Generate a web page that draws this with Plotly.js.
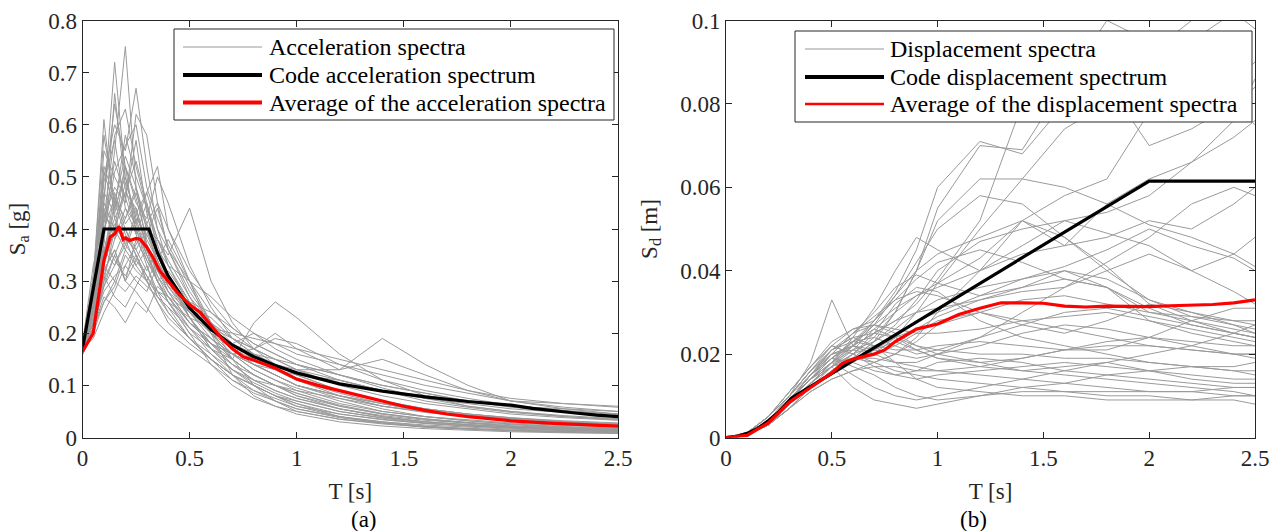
<!DOCTYPE html>
<html>
<head>
<meta charset="utf-8">
<script src="https://cdn.plot.ly/plotly-3.0.1.min.js"></script>
<style>html,body{margin:0;padding:0;background:#fff;}#chart{width:1274px;height:531px;}</style>
</head>
<body>
<div id="chart"></div>
<script>
// ---------- Data: acceleration spectra (left panel) ----------
const periodsAcc = [0,0.05,0.1,0.15,0.2,0.25,0.3,0.35,0.4,0.5,0.6,0.7,0.8,0.9,1.0,1.2,1.4,1.6,1.8,2.0,2.25,2.5];
const accRecords = [
  [.17,.30,.61,.42,.38,.33,.36,.30,.26,.20,.17,.14,.12,.10,.085,.06,.045,.035,.028,.022,.018,.015],
  [.17,.25,.45,.72,.50,.42,.35,.31,.28,.22,.18,.15,.12,.10,.08,.055,.04,.03,.025,.02,.016,.013],
  [.16,.22,.38,.55,.75,.48,.40,.34,.29,.24,.20,.16,.13,.11,.09,.065,.05,.04,.032,.026,.021,.018],
  [.17,.28,.50,.60,.55,.67,.52,.40,.33,.25,.20,.17,.15,.13,.11,.08,.06,.048,.04,.034,.028,.024],
  [.18,.33,.42,.48,.45,.62,.58,.45,.36,.28,.22,.18,.15,.13,.11,.09,.07,.055,.045,.038,.032,.028],
  [.16,.20,.30,.40,.52,.45,.42,.50,.45,.33,.25,.19,.16,.14,.12,.09,.07,.055,.045,.038,.03,.025],
  [.17,.24,.36,.33,.38,.36,.40,.38,.35,.44,.30,.22,.17,.14,.12,.09,.07,.055,.045,.037,.03,.026],
  [.17,.26,.40,.46,.40,.35,.30,.26,.22,.18,.15,.12,.10,.08,.065,.045,.035,.027,.022,.018,.014,.012],
  [.16,.21,.32,.36,.30,.28,.25,.22,.20,.17,.14,.11,.09,.07,.055,.04,.03,.024,.02,.016,.013,.011],
  [.17,.27,.55,.50,.46,.40,.34,.30,.26,.21,.17,.15,.22,.26,.23,.16,.11,.08,.06,.05,.04,.034],
  [.17,.23,.34,.44,.58,.50,.44,.38,.34,.27,.22,.19,.17,.20,.17,.13,.19,.14,.10,.07,.055,.045],
  [.17,.29,.46,.64,.52,.46,.38,.34,.30,.24,.20,.18,.20,.18,.16,.14,.12,.10,.085,.07,.065,.06],
  [.16,.22,.28,.31,.33,.30,.28,.33,.30,.25,.23,.19,.16,.14,.13,.11,.09,.08,.07,.06,.05,.045],
  [.17,.25,.35,.47,.41,.44,.36,.32,.29,.26,.24,.21,.18,.16,.14,.12,.10,.085,.07,.06,.055,.05],
  [.17,.30,.58,.45,.39,.35,.31,.27,.24,.19,.15,.12,.10,.08,.065,.04,.028,.02,.016,.013,.011,.009],
  [.18,.24,.39,.51,.56,.60,.48,.42,.37,.29,.22,.17,.14,.12,.10,.075,.055,.04,.032,.026,.02,.017],
  [.17,.22,.31,.38,.44,.41,.47,.52,.40,.30,.24,.20,.17,.15,.13,.10,.08,.065,.055,.045,.038,.033],
  [.16,.20,.26,.29,.35,.32,.30,.28,.27,.22,.19,.16,.14,.12,.10,.08,.065,.05,.04,.034,.028,.024],
  [.17,.27,.43,.39,.49,.43,.37,.33,.30,.23,.18,.14,.11,.09,.075,.055,.04,.03,.024,.02,.016,.014],
  [.17,.25,.37,.66,.48,.40,.35,.30,.27,.22,.19,.16,.14,.13,.12,.11,.09,.075,.065,.055,.048,.042],
  [.17,.31,.47,.43,.52,.39,.45,.36,.31,.23,.17,.13,.10,.08,.06,.04,.03,.022,.017,.014,.011,.009],
  [.16,.21,.29,.35,.30,.38,.34,.30,.32,.26,.21,.17,.14,.12,.10,.08,.06,.05,.04,.032,.026,.022],
  [.17,.26,.41,.53,.46,.57,.43,.35,.31,.25,.21,.18,.16,.15,.14,.12,.10,.085,.07,.058,.05,.044],
  [.17,.28,.36,.41,.37,.34,.39,.44,.36,.27,.20,.15,.12,.10,.08,.06,.045,.035,.028,.022,.018,.015],
  [.17,.19,.24,.28,.33,.37,.41,.45,.40,.32,.26,.21,.18,.16,.14,.11,.09,.07,.058,.048,.04,.035],
  [.17,.23,.31,.27,.25,.29,.33,.27,.25,.19,.15,.11,.085,.07,.055,.038,.028,.021,.017,.014,.011,.009],
  [.16,.25,.44,.38,.42,.48,.37,.31,.27,.21,.16,.12,.09,.075,.06,.045,.034,.027,.022,.018,.014,.012],
  [.17,.21,.27,.25,.22,.26,.24,.29,.27,.24,.21,.18,.15,.13,.11,.085,.065,.05,.04,.032,.026,.022],
  [.17,.28,.49,.57,.44,.39,.33,.28,.24,.19,.15,.12,.10,.08,.07,.05,.038,.03,.025,.02,.017,.014],
  [.18,.26,.33,.40,.47,.53,.45,.38,.33,.26,.20,.16,.13,.11,.095,.07,.05,.04,.034,.028,.023,.02],
  [.17,.22,.30,.35,.40,.36,.32,.36,.33,.30,.27,.23,.20,.17,.15,.12,.095,.075,.06,.05,.042,.036],
  [.16,.24,.42,.58,.63,.52,.44,.37,.31,.23,.17,.13,.105,.085,.07,.05,.037,.028,.022,.018,.015,.012],
  [.17,.27,.38,.34,.31,.35,.30,.26,.23,.19,.16,.13,.11,.10,.09,.075,.06,.05,.042,.036,.03,.026],
  [.17,.20,.35,.45,.54,.48,.41,.35,.30,.24,.19,.15,.12,.10,.085,.062,.046,.036,.029,.024,.019,.016],
  [.17,.31,.52,.46,.42,.47,.40,.33,.28,.22,.18,.16,.14,.12,.10,.08,.065,.052,.043,.036,.03,.025],
  [.16,.23,.33,.30,.36,.42,.39,.34,.29,.23,.18,.14,.11,.09,.075,.055,.042,.033,.027,.022,.018,.015],
  [.17,.26,.45,.40,.36,.33,.30,.34,.38,.30,.20,.12,.08,.06,.045,.03,.022,.017,.014,.011,.009,.008],
  [.17,.22,.29,.33,.37,.43,.47,.40,.36,.30,.22,.15,.10,.07,.05,.035,.026,.02,.016,.013,.011,.009],
  [.17,.24,.32,.36,.30,.34,.31,.28,.26,.23,.21,.20,.19,.18,.17,.15,.13,.11,.09,.075,.065,.058],
  [.16,.21,.26,.30,.28,.31,.29,.27,.25,.21,.18,.16,.17,.19,.18,.14,.11,.09,.075,.062,.052,.045],
  [.17,.29,.51,.44,.50,.41,.35,.30,.26,.20,.14,.10,.075,.06,.05,.035,.027,.02,.016,.013,.01,.008],
  [.18,.25,.36,.42,.47,.44,.37,.32,.28,.24,.21,.19,.17,.15,.13,.13,.15,.12,.09,.07,.058,.05]
];
const codeAccT  = [0,0.1,0.31,0.35,0.4,0.5,0.6,0.7,0.8,0.9,1.0,1.2,1.4,1.6,1.8,2.0,2.1,2.2,2.3,2.4,2.5];
const codeAccSa = [0.17,0.40,0.40,0.354,0.31,0.248,0.207,0.177,0.155,0.138,0.124,0.103,0.089,0.078,0.069,0.062,0.056,0.051,0.047,0.043,0.040];
const avgAccT  = [0,0.05,0.1,0.13,0.15,0.17,0.19,0.2,0.22,0.25,0.27,0.3,0.33,0.36,0.4,0.45,0.5,0.55,0.6,0.65,0.7,0.75,0.8,0.9,1.0,1.1,1.2,1.3,1.4,1.5,1.6,1.7,1.8,1.9,2.0,2.2,2.4,2.5];
const avgAccSa = [0.165,0.2,0.34,0.385,0.39,0.405,0.38,0.383,0.378,0.382,0.38,0.365,0.345,0.32,0.3,0.275,0.255,0.24,0.215,0.19,0.17,0.155,0.148,0.133,0.112,0.1,0.09,0.08,0.07,0.06,0.052,0.045,0.04,0.036,0.032,0.027,0.024,0.022];

// ---------- Data: displacement spectra (right panel) ----------
const periodsDis = [0,0.1,0.2,0.3,0.4,0.5,0.6,0.7,0.8,0.9,1.0,1.2,1.4,1.6,1.8,2.0,2.2,2.4,2.5];
const disRecords = [
  [0,.001,.004,.009,.014,.020,.025,.027,.025,.022,.020,.018,.016,.015,.014,.013,.012,.011,.010],
  [0,.0008,.003,.007,.012,.016,.019,.023,.030,.040,.052,.062,.062,.060,.056,.051,.048,.044,.041],
  [0,.001,.005,.010,.016,.022,.020,.018,.016,.015,.014,.013,.012,.011,.010,.010,.009,.009,.008],
  [0,.0006,.003,.008,.013,.018,.023,.028,.035,.045,.060,.071,.068,.080,.090,.083,.095,.102,.098],
  [0,.0012,.005,.010,.018,.033,.022,.020,.024,.028,.030,.034,.038,.040,.036,.030,.028,.026,.025],
  [0,.0007,.003,.007,.011,.014,.016,.018,.020,.024,.030,.040,.052,.046,.056,.062,.066,.072,.076],
  [0,.0009,.004,.009,.015,.019,.017,.015,.012,.010,.009,.010,.012,.013,.015,.016,.017,.017,.018],
  [0,.0011,.005,.011,.017,.023,.026,.028,.033,.038,.042,.045,.042,.038,.036,.028,.025,.023,.022],
  [0,.0008,.003,.007,.012,.016,.020,.025,.032,.036,.035,.028,.024,.022,.020,.018,.017,.016,.015],
  [0,.001,.004,.009,.014,.019,.023,.024,.022,.020,.021,.024,.030,.036,.040,.044,.040,.035,.032],
  [0,.0007,.003,.008,.013,.018,.022,.025,.028,.032,.038,.052,.080,.093,.085,.070,.074,.080,.084],
  [0,.001,.004,.009,.015,.021,.024,.022,.018,.014,.012,.011,.010,.010,.009,.009,.009,.010,.010],
  [0,.0009,.004,.008,.013,.017,.021,.026,.030,.034,.036,.040,.044,.046,.048,.052,.050,.056,.060],
  [0,.0012,.005,.010,.016,.020,.022,.021,.020,.019,.020,.022,.025,.027,.026,.024,.022,.020,.019],
  [0,.0008,.003,.008,.013,.017,.019,.018,.020,.023,.027,.030,.033,.034,.032,.030,.029,.028,.028],
  [0,.001,.004,.009,.014,.018,.015,.012,.010,.009,.010,.012,.014,.016,.018,.020,.022,.025,.027],
  [0,.0007,.003,.007,.012,.017,.022,.028,.034,.040,.044,.048,.052,.058,.062,.078,.082,.086,.090],
  [0,.001,.004,.009,.015,.020,.021,.020,.022,.025,.028,.030,.028,.026,.024,.022,.021,.020,.020],
  [0,.0009,.004,.009,.014,.019,.023,.026,.024,.021,.019,.017,.016,.017,.018,.016,.014,.013,.013],
  [0,.001,.004,.010,.016,.021,.025,.030,.036,.039,.037,.034,.036,.040,.038,.033,.030,.028,.027],
  [0,.0008,.003,.008,.012,.015,.018,.021,.023,.021,.019,.018,.019,.021,.023,.024,.023,.022,.022],
  [0,.0011,.005,.011,.017,.022,.020,.017,.015,.014,.015,.016,.017,.018,.017,.016,.015,.014,.014],
  [0,.0009,.004,.008,.013,.018,.024,.031,.040,.048,.045,.040,.046,.052,.049,.046,.040,.044,.048],
  [0,.001,.004,.009,.014,.018,.019,.019,.018,.018,.020,.024,.027,.030,.031,.029,.027,.025,.024],
  [0,.0009,.004,.009,.015,.020,.022,.025,.028,.030,.031,.033,.035,.036,.042,.048,.056,.060,.058],
  [0,.0008,.003,.008,.013,.017,.020,.024,.030,.040,.055,.070,.069,.085,.100,.095,.090,.080,.075],
  [0,.001,.004,.009,.014,.019,.022,.020,.018,.017,.016,.015,.014,.013,.012,.011,.011,.010,.010],
  [0,.0009,.004,.008,.012,.016,.019,.023,.027,.033,.040,.047,.050,.052,.054,.058,.066,.076,.086],
  [0,.0011,.005,.010,.016,.021,.024,.025,.024,.022,.021,.020,.020,.019,.019,.018,.017,.016,.016],
  [0,.0008,.003,.007,.011,.014,.016,.017,.017,.016,.016,.017,.019,.021,.022,.022,.021,.020,.020],
  [0,.001,.004,.009,.014,.019,.023,.027,.031,.034,.037,.043,.052,.048,.040,.033,.029,.027,.026],
  [0,.0009,.004,.009,.015,.020,.025,.029,.033,.035,.034,.030,.027,.025,.028,.032,.030,.027,.025],
  [0,.0007,.003,.007,.012,.016,.019,.021,.024,.030,.037,.050,.062,.074,.080,.092,.100,.104,.100],
  [0,.001,.004,.009,.015,.021,.023,.022,.021,.021,.022,.023,.022,.021,.021,.024,.028,.031,.031],
  [0,.0012,.005,.011,.017,.022,.026,.027,.026,.025,.025,.026,.028,.029,.030,.028,.026,.024,.023],
  [0,.0008,.003,.008,.013,.017,.020,.022,.024,.026,.029,.033,.036,.038,.036,.031,.027,.025,.024],
  [0,.001,.004,.009,.014,.017,.012,.009,.008,.007,.008,.010,.011,.011,.011,.011,.011,.012,.012],
  [0,.0009,.004,.008,.013,.018,.022,.027,.034,.042,.050,.058,.056,.048,.041,.032,.028,.025,.024],
  [0,.001,.004,.009,.014,.018,.021,.023,.026,.030,.033,.036,.038,.041,.045,.050,.046,.043,.040],
  [0,.0011,.005,.010,.015,.019,.018,.016,.015,.016,.018,.019,.018,.016,.015,.014,.013,.012,.012]
];
const codeDisT  = [0,0.05,0.1,0.15,0.2,0.25,0.31,0.5,1.0,1.5,2.0,2.5];
const codeDisSd = [0,0.00025,0.001,0.0022,0.004,0.0062,0.0095,0.0154,0.0308,0.0462,0.0615,0.0615];
const avgDisT  = [0,0.1,0.2,0.3,0.4,0.5,0.55,0.6,0.7,0.75,0.8,0.9,1.0,1.1,1.2,1.3,1.4,1.5,1.6,1.7,1.8,1.9,2.0,2.1,2.2,2.3,2.4,2.5];
const avgDisSd = [0,0.0005,0.0035,0.0085,0.012,0.0155,0.0178,0.0188,0.020,0.021,0.023,0.026,0.0272,0.0295,0.031,0.0323,0.0323,0.0322,0.0315,0.0313,0.0315,0.0315,0.0314,0.0316,0.0318,0.0319,0.0323,0.0330];

const legendLabelsAcc = ['Acceleration spectra','Code acceleration spectrum','Average of the acceleration spectra'];
const legendLabelsDis = ['Displacement spectra','Code displacement spectrum','Average of the displacement spectra'];

// ---------- Styles ----------
const GRAY = '#9a9a9a', BLACK = '#000000', RED = '#ff0000';
const FONT = "'Liberation Serif', 'Times New Roman', serif";
const AX = '#262626';
const W = 1274, H = 531;
const px = v => v / W, py = v => 1 - v / H;

// ---------- Traces ----------
const traces = [];
accRecords.forEach(rec => {
  traces.push({x: periodsAcc, y: rec, xaxis: 'x', yaxis: 'y', type: 'scatter', mode: 'lines',
    line: {color: GRAY, width: 1}, name: legendLabelsAcc[0], showlegend: false, hoverinfo: 'skip'});
});
traces.push({x: codeAccT, y: codeAccSa, xaxis: 'x', yaxis: 'y', mode: 'lines',
  line: {color: BLACK, width: 3.2}, name: legendLabelsAcc[1], showlegend: false});
traces.push({x: avgAccT, y: avgAccSa, xaxis: 'x', yaxis: 'y', mode: 'lines',
  line: {color: RED, width: 3.2}, name: legendLabelsAcc[2], showlegend: false});

disRecords.forEach(rec => {
  traces.push({x: periodsDis, y: rec, xaxis: 'x2', yaxis: 'y2', type: 'scatter', mode: 'lines',
    line: {color: GRAY, width: 1}, name: legendLabelsDis[0], showlegend: false, hoverinfo: 'skip'});
});
traces.push({x: codeDisT, y: codeDisSd, xaxis: 'x2', yaxis: 'y2', mode: 'lines',
  line: {color: BLACK, width: 3.2}, name: legendLabelsDis[1], showlegend: false});
traces.push({x: avgDisT, y: avgDisSd, xaxis: 'x2', yaxis: 'y2', mode: 'lines',
  line: {color: RED, width: 3.2}, name: legendLabelsDis[2], showlegend: false});

// ---------- Legend boxes (paper-space shapes + text) ----------
const shapes = [], annotations = [];
function addLegend(box, lineX0, lineX1, textX, rowsY, labels, colors, widths) {
  shapes.push({type: 'rect', xref: 'paper', yref: 'paper', layer: 'above',
    x0: px(box[0]), x1: px(box[1]), y0: py(box[3]), y1: py(box[2]),
    line: {color: AX, width: 1}, fillcolor: '#ffffff'});
  labels.forEach((lab, i) => {
    shapes.push({type: 'line', xref: 'paper', yref: 'paper', layer: 'above',
      x0: px(lineX0), x1: px(lineX1), y0: py(rowsY[i]), y1: py(rowsY[i]),
      line: {color: colors[i], width: widths[i]}});
    annotations.push({text: lab, xref: 'paper', yref: 'paper', x: px(textX), y: py(rowsY[i]),
      xanchor: 'left', yanchor: 'middle', showarrow: false,
      font: {family: FONT, size: 24, color: '#000'}});
  });
}
addLegend([174, 614, 29, 120], 183, 262, 267, [47, 75, 102.5], legendLabelsAcc,
  [GRAY, BLACK, RED], [1.2, 4, 4]);
addLegend([795, 1252, 31, 122], 805, 884, 888, [49, 77, 104], legendLabelsDis,
  [GRAY, BLACK, RED], [1.2, 4, 2.5]);

annotations.push({text: '(a)', xref: 'paper', yref: 'paper', x: px(349), y: py(519), yanchor: 'middle',
  showarrow: false, font: {family: FONT, size: 23, color: '#000'}});
annotations.push({text: '(b)', xref: 'paper', yref: 'paper', x: px(989), y: py(519), yanchor: 'middle',
  showarrow: false, font: {family: FONT, size: 23, color: '#000'}});

const axisBase = {
  showline: true, linecolor: AX, linewidth: 1, mirror: 'ticks',
  ticks: 'inside', ticklen: 6, tickcolor: AX, tickwidth: 1,
  showgrid: false, zeroline: false,
  tickfont: {family: FONT, size: 23, color: '#262626'}
};
const titleFont = {family: FONT, size: 23, color: '#262626'};
const yDomain = [py(437.5), py(20.5)];

const layout = {
  width: W, height: H,
  margin: {l: 0, r: 0, t: 0, b: 0},
  paper_bgcolor: '#fff', plot_bgcolor: '#fff',
  font: {family: FONT},
  showlegend: false,
  xaxis: Object.assign({}, axisBase, {domain: [px(82.5), px(618)], range: [0, 2.5], dtick: 0.5, anchor: 'y',
    title: {text: 'T [s]', font: titleFont, standoff: 12}}),
  yaxis: Object.assign({}, axisBase, {domain: yDomain, range: [0, 0.8], dtick: 0.1, anchor: 'x',
    title: {text: 'S<sub>a</sub> [g]', font: titleFont, standoff: 16}}),
  xaxis2: Object.assign({}, axisBase, {domain: [px(726), px(1255)], range: [0, 2.5], dtick: 0.5, anchor: 'y2',
    title: {text: 'T [s]', font: titleFont, standoff: 12}}),
  yaxis2: Object.assign({}, axisBase, {domain: yDomain, range: [0, 0.1], dtick: 0.02, anchor: 'x2',
    title: {text: 'S<sub>d</sub> [m]', font: titleFont, standoff: 16}}),
  shapes: shapes,
  annotations: annotations
};

Plotly.newPlot('chart', traces, layout, {displayModeBar: false, staticPlot: true});
</script>
</body>
</html>
